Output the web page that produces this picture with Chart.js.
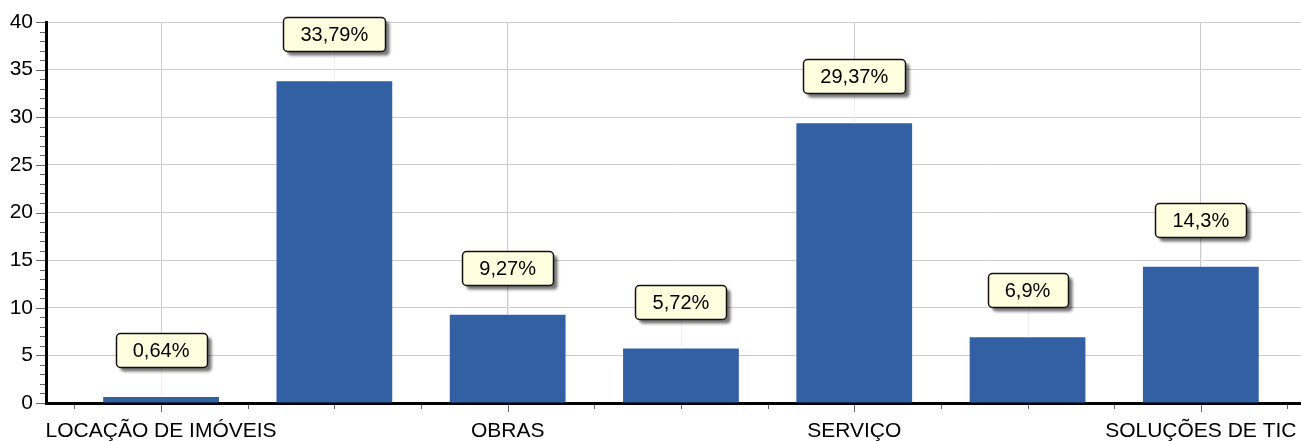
<!DOCTYPE html>
<html>
<head>
<meta charset="utf-8">
<script src="https://cdn.jsdelivr.net/npm/chart.js@4/dist/chart.umd.min.js"></script>
<style>
  html, body { margin: 0; padding: 0; background: #fff; }
  #wrap { width: 1301px; height: 441px; }
</style>
</head>
<body>
<div id="wrap"><canvas id="chart" width="1301" height="441"></canvas></div>
<script>
// categories (only every other one is printed on the axis)
const categories = ["LOCAÇÃO DE IMÓVEIS", "MATERIAL", "OBRAS", "PRODUTOS", "SERVIÇO", "SERVIÇO DE ENGENHARIA", "SOLUÇÕES DE TIC"];
const values = [0.64, 33.79, 9.27, 5.72, 29.37, 6.9, 14.3];
const valueLabels = ["0,64%", "33,79%", "9,27%", "5,72%", "29,37%", "6,9%", "14,3%"];
const yTicks = [0, 5, 10, 15, 20, 25, 30, 35, 40];
const xLabelled = [0, 2, 4, 6];

const FONT = "'Liberation Sans', Arial, sans-serif";

// small tick marks on both axes (major + minor)
const tickMarks = {
  id: "tickMarks",
  afterDraw(chart) {
    const { ctx, chartArea, scales } = chart;
    ctx.save();
    ctx.strokeStyle = "#666";
    ctx.lineWidth = 1;
    // y axis: minor every 1, major every 5
    for (let v = 0; v <= 40; v++) {
      const y = Math.round(scales.y.getPixelForValue(v)) + 0.5;
      const len = v % 5 === 0 ? 9 : 5;
      ctx.beginPath();
      ctx.moveTo(chartArea.left - 1 - len, y);
      ctx.lineTo(chartArea.left - 1, y);
      ctx.stroke();
    }
    // x axis: every half category
    for (let v = -0.5; v <= 6.5; v += 0.5) {
      const x = Math.round(scales.x.getPixelForValue(v)) + 0.5;
      const len = xLabelled.includes(v) ? 7 : 4;
      ctx.beginPath();
      ctx.moveTo(x, chartArea.bottom + 2);
      ctx.lineTo(x, chartArea.bottom + 2 + len);
      ctx.stroke();
    }
    ctx.restore();
  }
};

// yellow boxes with the percentage above each bar
const boxLabels = {
  id: "boxLabels",
  afterDatasetsDraw(chart) {
    const { ctx } = chart;
    const meta = chart.getDatasetMeta(0);
    ctx.save();
    ctx.font = "20px " + FONT;
    ctx.textAlign = "center";
    ctx.textBaseline = "middle";
    meta.data.forEach((bar, i) => {
      const text = valueLabels[i];
      const w = Math.round(ctx.measureText(text).width) + 34;
      const h = 34;
      const x = Math.round(bar.x - w / 2) + 0.5;
      const y = Math.round(bar.y - 30 - h) + 0.5;
      // leader line
      ctx.strokeStyle = "#eeeeee";
      ctx.lineWidth = 1;
      ctx.beginPath();
      ctx.moveTo(Math.round(bar.x) + 0.5, y + h);
      ctx.lineTo(Math.round(bar.x) + 0.5, bar.y);
      ctx.stroke();
      // box with shadow
      ctx.save();
      ctx.shadowColor = "rgba(0,0,0,0.55)";
      ctx.shadowOffsetX = 4;
      ctx.shadowOffsetY = 4;
      ctx.shadowBlur = 3;
      ctx.fillStyle = "#ffffe0";
      ctx.beginPath();
      ctx.roundRect(x, y, w, h, 4);
      ctx.fill();
      ctx.restore();
      ctx.strokeStyle = "#111";
      ctx.lineWidth = 1.5;
      ctx.beginPath();
      ctx.roundRect(x, y, w, h, 4);
      ctx.stroke();
      ctx.fillStyle = "#000";
      ctx.fillText(text, bar.x, y + h / 2 + 1);
    });
    ctx.restore();
  }
};

new Chart(document.getElementById("chart"), {
  type: "bar",
  data: {
    datasets: [{
      data: values.map((v, i) => ({ x: i, y: v })),
      backgroundColor: "#335fa5",
      borderWidth: 0,
      barPercentage: 1,
      categoryPercentage: 0.668
    }]
  },
  options: {
    responsive: false,
    animation: false,
    layout: { padding: { top: 22, right: 0, left: 0, bottom: 0 } },
    plugins: {
      legend: { display: false },
      tooltip: { enabled: false }
    },
    scales: {
      x: {
        type: "linear",
        offset: false,
        min: -0.664,
        max: 6.578,
        afterBuildTicks: (scale) => {
          scale.ticks = xLabelled.map((v) => ({ value: v }));
        },
        afterFit: (scale) => {
          scale.height = 38;
          scale.paddingLeft = 0;
          scale.paddingRight = 0;
        },
        ticks: {
          autoSkip: false,
          maxRotation: 0,
          padding: 16,
          color: "#000",
          font: { family: FONT, size: 21 },
          callback: (v) => categories[v]
        },
        grid: { color: "#cccccc", drawTicks: false, offset: false },
        border: { color: "#000", width: 3 }
      },
      y: {
        min: 0,
        max: 40,
        afterBuildTicks: (scale) => {
          scale.ticks = yTicks.map((v) => ({ value: v }));
        },
        afterFit: (scale) => {
          scale.width = 46;
          scale.paddingTop = 0;
          scale.paddingBottom = 0;
        },
        ticks: {
          padding: 13,
          color: "#000",
          font: { family: FONT, size: 21 }
        },
        grid: { color: "#cccccc", drawTicks: false },
        border: { color: "#000", width: 3 }
      }
    }
  },
  plugins: [tickMarks, boxLabels]
});
</script>
</body>
</html>
